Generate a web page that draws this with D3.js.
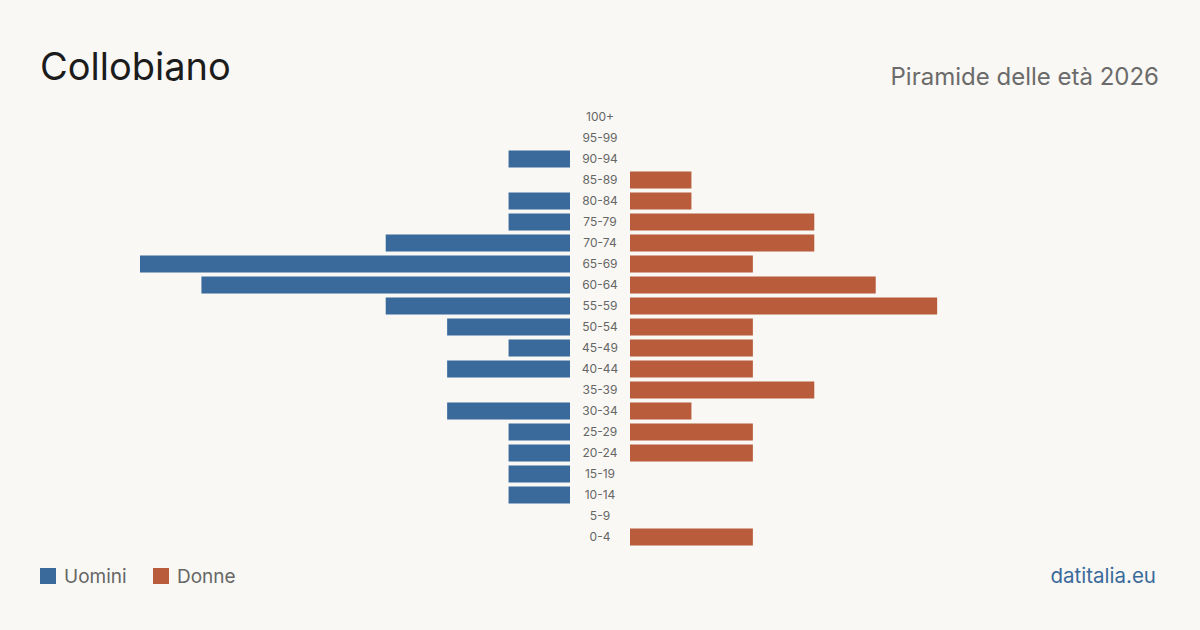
<!DOCTYPE html>
<html>
<head>
<meta charset="utf-8" />
<title>Collobiano</title>
<script src="https://cdn.jsdelivr.net/npm/d3@7"></script>
<style>
  body { margin: 0; background: #f9f8f4; }
  svg { display: block; font-family: Inter, "Noto Sans", sans-serif; }
</style>
</head>
<body>
<script>
    var ageGroups = ['100+','95-99','90-94','85-89','80-84','75-79','70-74','65-69','60-64','55-59',
        '50-54','45-49','40-44','35-39','30-34','25-29','20-24','15-19','10-14','5-9','0-4'];
    var uomini = [0,0,1,0,1,1,3,7,6,3,2,1,2,0,2,1,1,1,1,0,0];
    var donne  = [0,0,0,1,1,3,3,2,4,5,2,2,2,3,1,2,2,0,0,0,2];

    var width = 1200, height = 630;
    var blue = '#3a6a9b', red = '#b95c3c';

    var svg = d3.select('body').append('svg').attr('width', width).attr('height', height);
    svg.append('rect').attr('width', width).attr('height', height).attr('fill', '#f9f8f4');

    // vertical band per age group
    var y = d3.scaleBand().domain(ageGroups).range([106.5, 547.5]).paddingInner(0.19).paddingOuter(0.095);
    var maxVal = 7;
    var xLeft = d3.scaleLinear().domain([0, maxVal]).range([570, 140]);
    var xRight = d3.scaleLinear().domain([0, maxVal]).range([630, 1060]);

    svg.selectAll('rect.m').data(uomini).enter().append('rect').attr('class', 'm')
        .attr('x', function(d){ return xLeft(d); })
        .attr('y', function(d, i){ return y(ageGroups[i]); })
        .attr('width', function(d){ return xLeft(0) - xLeft(d); })
        .attr('height', y.bandwidth())
        .attr('fill', blue);

    svg.selectAll('rect.f').data(donne).enter().append('rect').attr('class', 'f')
        .attr('x', xRight(0))
        .attr('y', function(d, i){ return y(ageGroups[i]); })
        .attr('width', function(d){ return xRight(d) - xRight(0); })
        .attr('height', y.bandwidth())
        .attr('fill', red);

    svg.selectAll('text.age').data(ageGroups).enter().append('text').attr('class', 'age')
        .text(function(d){ return d; })
        .attr('x', 600)
        .attr('y', function(d){ return y(d) + y.bandwidth() / 2; })
        .attr('dy', '0.35em')
        .attr('text-anchor', 'middle')
        .attr('font-size', '12px')
        .attr('fill', '#666');

    svg.append('text').text('Collobiano')
        .attr('x', 40).attr('y', 80)
        .attr('font-size', '38px').attr('fill', '#1c1c1c');

    svg.append('text').text('Piramide delle età 2026')
        .attr('x', 1159).attr('y', 85)
        .attr('text-anchor', 'end')
        .attr('font-size', '24px').attr('fill', '#6b6b6b');

    // legend
    var legend = [{ label: 'Uomini', color: blue, x: 40 }, { label: 'Donne', color: red, x: 153 }];
    var lg = svg.selectAll('g.legend').data(legend).enter().append('g').attr('class', 'legend')
        .attr('transform', function(d){ return 'translate(' + d.x + ',568)'; });
    lg.append('rect').attr('width', 16).attr('height', 16).attr('fill', function(d){ return d.color; });
    lg.append('text').text(function(d){ return d.label; })
        .attr('x', 24).attr('y', 15)
        .attr('font-size', '19px').attr('fill', '#666');

    svg.append('text').text('datitalia.eu')
        .attr('x', 1156).attr('y', 583)
        .attr('text-anchor', 'end')
        .attr('font-size', '20.5px').attr('fill', '#3a6a9b');
</script>
</body>
</html>
